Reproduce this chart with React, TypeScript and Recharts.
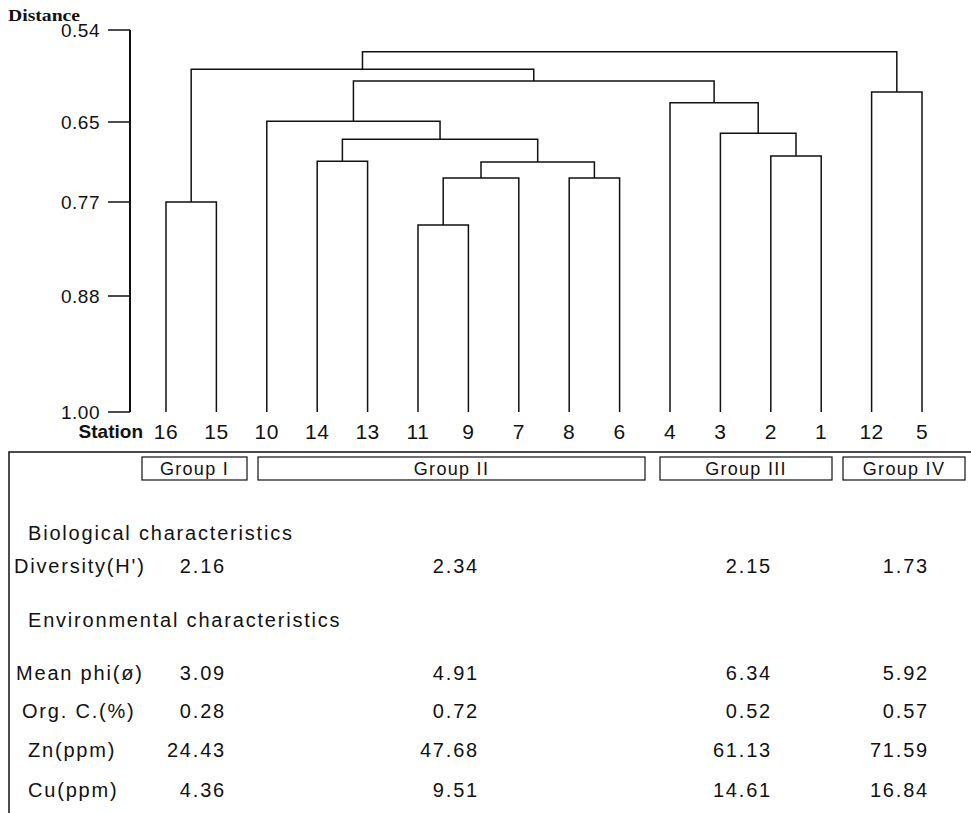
import React from 'react';
import { LineChart, Line, XAxis, YAxis } from 'recharts';

// ---- Data ----
const STATIONS = ['16', '15', '10', '14', '13', '11', '9', '7', '8', '6', '4', '3', '2', '1', '12', '5'];

// Distance axis: tick values and their (uneven) spacing along the axis as printed
const DIST_TICKS = [0.54, 0.65, 0.77, 0.88, 1.0];
const DIST_TICK_LABELS = ['0.54', '0.65', '0.77', '0.88', '1.00'];
const DIST_TICK_OFFSETS = [0, 92, 172, 266, 382];

// Linkage: left child, right child, merge distance (M<k> = k-th merge)
const MERGE_LEFT = ['16', '11', 'M1', '8', 'M2', '14', 'M5', '10', '2', '3', '4', 'M7', 'M0', '12', 'M12'];
const MERGE_RIGHT = ['15', '9', '7', '6', 'M3', '13', 'M4', 'M6', '1', 'M8', 'M9', 'M10', 'M11', '5', 'M13'];
const MERGE_HEIGHT = [0.77, 0.797, 0.734, 0.734, 0.71, 0.709, 0.676, 0.649, 0.701, 0.667, 0.627, 0.601, 0.587, 0.614, 0.566];

// Table
const GROUPS = ['Group I', 'Group II', 'Group III', 'Group IV'];
const DIVERSITY = [2.16, 2.34, 2.15, 1.73];
const MEAN_PHI = [3.09, 4.91, 6.34, 5.92];
const ORG_C = [0.28, 0.72, 0.52, 0.57];
const ZN = [24.43, 47.68, 61.13, 71.59];
const CU = [4.36, 9.51, 14.61, 16.84];

// ---- Helpers ----
function distPos(d: number): number {
  for (let i = 0; i < DIST_TICKS.length - 1; i++) {
    const a = DIST_TICKS[i], b = DIST_TICKS[i + 1];
    if (d <= b || i === DIST_TICKS.length - 2) {
      const t = (d - a) / (b - a);
      return DIST_TICK_OFFSETS[i] + t * (DIST_TICK_OFFSETS[i + 1] - DIST_TICK_OFFSETS[i]);
    }
  }
  return 0;
}

type Pt = { x: number; y: number };
const nodes: Record<string, { x: number; h: number }> = {};
STATIONS.forEach((s, i) => (nodes[s] = { x: i, h: 1.0 }));
const LINKS: Pt[][] = [];
MERGE_LEFT.forEach((l, k) => {
  const a = nodes[l];
  const b = nodes[MERGE_RIGHT[k]];
  const h = MERGE_HEIGHT[k];
  LINKS.push([
    { x: a.x, y: distPos(a.h) },
    { x: a.x, y: distPos(h) },
    { x: b.x, y: distPos(h) },
    { x: b.x, y: distPos(b.h) },
  ]);
  nodes['M' + k] = { x: (a.x + b.x) / 2, h };
});

const FONT = '"Liberation Sans", Arial, sans-serif';
const INK = '#111';

const GROUP_BOXES = [
  [142, 457, 105, 23],
  [258, 457, 387, 23],
  [660, 457, 172, 23],
  [843, 457, 122, 23],
];
const VALUE_RIGHT = [226, 479, 772, 929];

const ROWS: { label: string; x: number; y: number; vals?: number[] }[] = [
  { label: 'Biological characteristics', x: 28, y: 540 },
  { label: "Diversity(H')", x: 14, y: 573, vals: DIVERSITY },
  { label: 'Environmental characteristics', x: 28, y: 627 },
  { label: 'Mean phi(ø)', x: 16, y: 680, vals: MEAN_PHI },
  { label: 'Org. C.(%)', x: 22, y: 718, vals: ORG_C },
  { label: 'Zn(ppm)', x: 28, y: 757, vals: ZN },
  { label: 'Cu(ppm)', x: 28, y: 797, vals: CU },
];

export default function App() {
  return (
    <div style={{ position: 'absolute', left: 0, top: 0, width: 971, height: 813, background: '#fff', fontFamily: FONT }}>
      <svg width={971} height={813} style={{ position: 'absolute', left: 0, top: 0 }}>
        <polyline points="9,813 9,452 971,452" fill="none" stroke={INK} strokeWidth={1.5} />
        {GROUP_BOXES.map((b, i) => (
          <g key={i}>
            <rect x={b[0]} y={b[1]} width={b[2]} height={b[3]} fill="none" stroke={INK} strokeWidth={1.2} />
            <text x={b[0] + b[2] / 2} y={475} textAnchor="middle" fontSize={18} letterSpacing={1.3} fill={INK} fontFamily={FONT}>
              {GROUPS[i]}
            </text>
          </g>
        ))}
        {ROWS.map((r, i) => (
          <g key={i}>
            <text x={r.x} y={r.y} fontSize={20} letterSpacing={1.8} fill={INK} fontFamily={FONT}>
              {r.label}
            </text>
            {r.vals &&
              r.vals.map((v, j) => (
                <text key={j} x={VALUE_RIGHT[j]} y={r.y} textAnchor="end" fontSize={20} letterSpacing={1.8} fill={INK} fontFamily={FONT}>
                  {v.toFixed(2)}
                </text>
              ))}
          </g>
        ))}
      </svg>
      <div style={{ position: 'absolute', left: 0, top: 0 }}>
        <LineChart width={971} height={450} margin={{ top: 30, right: 13, left: 0, bottom: 0 }}>
          <XAxis
            type="number"
            dataKey="x"
            domain={[-0.714, 15.714]}
            allowDataOverflow
            ticks={STATIONS.map((_, i) => i)}
            interval={0}
            tickFormatter={(v: number) => STATIONS[Math.round(v)] ?? ''}
            axisLine={false}
            tickLine={false}
            tickMargin={6}
            height={38}
            tick={{ fontSize: 21, fill: INK, fontFamily: FONT, letterSpacing: 0.5 }}
            label={{
              content: () => (
                <text x={143} y={438} textAnchor="end" fontSize={19} fontWeight="bold" fill={INK} fontFamily={FONT}>
                  Station
                </text>
              ),
            }}
          />
          <YAxis
            type="number"
            domain={[0, 382]}
            reversed
            allowDataOverflow
            ticks={DIST_TICK_OFFSETS}
            interval={0}
            tickFormatter={(v: number) => DIST_TICK_LABELS[DIST_TICK_OFFSETS.indexOf(v)] ?? ''}
            width={130}
            tickSize={22}
            tickMargin={8}
            axisLine={{ stroke: INK, strokeWidth: 2 }}
            tickLine={{ stroke: INK, strokeWidth: 1.5 }}
            tick={{ fontSize: 19, fill: INK, fontFamily: FONT, letterSpacing: 0.5 }}
            label={{
              content: () => (
                <text x={8} y={21} fontSize={16} fontWeight="bold" fill={INK} fontFamily='"Liberation Serif", "Times New Roman", serif' textLength={72} lengthAdjust="spacingAndGlyphs">
                  Distance
                </text>
              ),
            }}
          />
          {LINKS.map((pts, i) => (
            <Line
              key={i}
              data={pts}
              dataKey="y"
              type="linear"
              stroke={INK}
              strokeWidth={1.5}
              dot={false}
              activeDot={false}
              legendType="none"
              isAnimationActive={false}
            />
          ))}
        </LineChart>
      </div>
    </div>
  );
}
